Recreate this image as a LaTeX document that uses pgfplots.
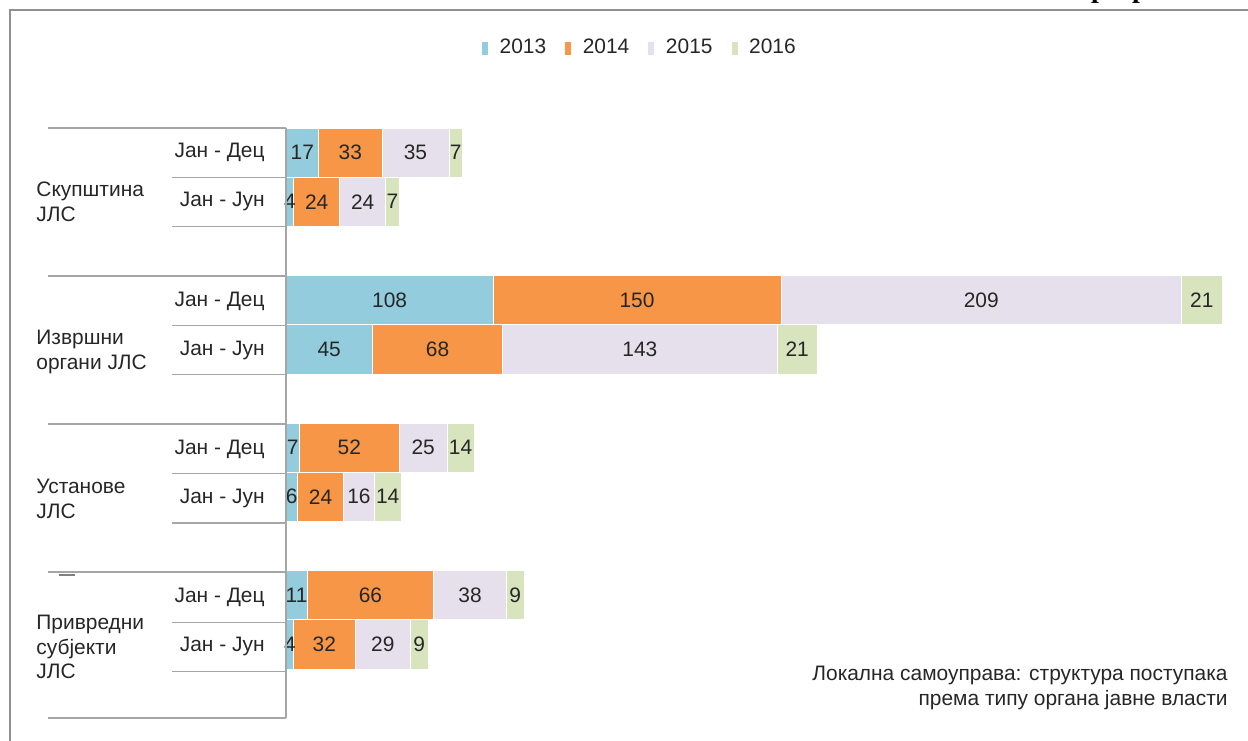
\documentclass[border=0pt]{standalone}
\usepackage{pgfplots}
\pgfplotsset{compat=1.18}
\usepackage{fontspec}
\setmainfont{Liberation Sans}
\newfontfamily\serifb{Liberation Serif}
\definecolor{c13}{HTML}{93CDDD}
\definecolor{c14}{HTML}{F79646}
\definecolor{c15}{HTML}{E6E0EC}
\definecolor{c16}{HTML}{D7E4BD}
\definecolor{framec}{HTML}{909090}
\definecolor{gridc}{HTML}{A6A6A6}
\definecolor{txt}{HTML}{262626}
\begin{document}
\begin{tikzpicture}
\useasboundingbox (0,0) rectangle (624bp,-370.5bp);
\begin{axis}[
  at={(143bp,-64bp)}, anchor=north west,
  scale only axis, width=479.5bp, height=295bp,
  xmin=0, xmax=500, ymin=0, ymax=12, y dir=reverse,
  axis line style={draw=none}, ticks=none,
  xbar stacked, bar width=1, bar shift=0,
  clip=false,
  /pgf/number format/assume math mode=true,
  nodes near coords, point meta=rawx,
  every node near coord/.append style={font=\fontsize{10.5}{12}\selectfont, text=txt, anchor=center},
  legend style={at={(0.3685,1)}, anchor=center, yshift=40bp, draw=none, fill=none,
    legend columns=4, font=\fontsize{10.5}{12}\selectfont, text=txt,
    nodes={inner sep=1bp},
    /tikz/every even column/.append style={column sep=8bp}},
  legend image code/.code={\fill[#1] (0bp,-3.5bp) rectangle (3.5bp,3.5bp); \path (8bp,0bp);},
]
\addplot[fill=c13, draw=white, line width=0.3pt] coordinates {(17,0.5) (4,1.5) (108,3.5) (45,4.5) (7,6.5) (6,7.5) (11,9.5) (4,10.5)};
\addplot[fill=c14, draw=white, line width=0.3pt] coordinates {(33,0.5) (24,1.5) (150,3.5) (68,4.5) (52,6.5) (24,7.5) (66,9.5) (32,10.5)};
\addplot[fill=c15, draw=white, line width=0.3pt] coordinates {(35,0.5) (24,1.5) (209,3.5) (143,4.5) (25,6.5) (16,7.5) (38,9.5) (29,10.5)};
\addplot[fill=c16, draw=white, line width=0.3pt] coordinates {(7,0.5) (7,1.5) (21,3.5) (21,4.5) (14,6.5) (14,7.5) (9,9.5) (9,10.5)};
\legend{2013,2014,2015,2016}
\end{axis}
\begin{scope}[x=0.5bp,y=-0.5bp]
\draw[framec, line width=1.4bp] (10,760) -- (10,10) -- (1260,10);
\draw[gridc, line width=0.6bp] (286,128) -- (286,718);
\foreach \y in {128,276,424,572,718} \draw[gridc, line width=0.6bp] (48,\y) -- (286,\y);
\foreach \y in {177.2,226.3,325.5,374.7,473.8,523.0,622.2,671.3} \draw[gridc, line width=0.6bp] (172,\y) -- (286,\y);
\foreach \y/\t in {152.6/Јан - Дец,201.8/Јан - Јун,300.9/Јан - Дец,350.1/Јан - Јун,449.3/Јан - Дец,498.4/Јан - Јун,597.6/Јан - Дец,646.8/Јан - Јун}
  \node[anchor=east, inner sep=0pt, text=txt, font=\fontsize{10.5}{12.5}\selectfont] at (265,\y) {\t};
\begin{scope}[every node/.style={anchor=west, inner sep=0pt, align=left, text=txt, font=\fontsize{10.5}{12.5}\selectfont}]
\node at (36,202) {Скупштина\\ЈЛС};
\node at (36,352) {Извршни\\органи ЈЛС};
\node at (36,499) {Установе\\ЈЛС};
\node at (36,647) {Привредни\\субјекти\\ЈЛС};
\end{scope}
\node[anchor=east, inner sep=0pt, align=right, text=txt, font=\fontsize{10.5}{12.5}\selectfont] at (1228,688) {Локална самоуправа: структура поступака\\према типу органа јавне власти};
\draw[gray, line width=1bp] (59,575) -- (75,575);
\node[anchor=base, inner sep=0pt, font=\serifb\bfseries\fontsize{14}{14}\selectfont] at (1099,-3) {p};
\node[anchor=base, inner sep=0pt, font=\serifb\bfseries\fontsize{14}{14}\selectfont] at (1140,-3) {p};
\end{scope}
\end{tikzpicture}
\end{document}
